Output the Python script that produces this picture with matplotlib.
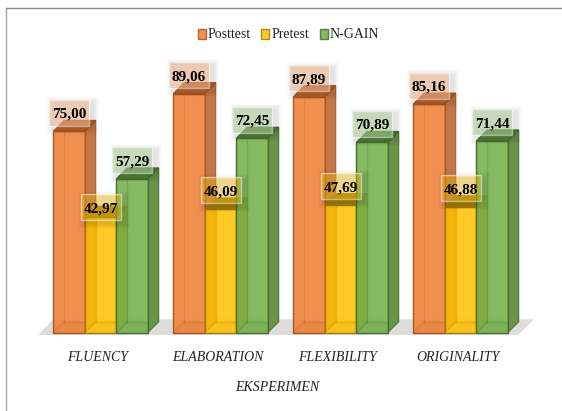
import matplotlib
matplotlib.use("Agg")
import matplotlib.pyplot as plt
from matplotlib.patches import Rectangle, Patch
from matplotlib.lines import Line2D

categories = ["FLUENCY", "ELABORATION", "FLEXIBILITY", "ORIGINALITY"]
posttest = [75.00, 89.06, 87.89, 85.16]
pretest = [42.97, 46.09, 47.69, 46.88]
ngain = [57.29, 72.45, 70.89, 71.44]
series_names = ["Posttest", "Pretest", "N-GAIN"]
x_title = "EKSPERIMEN"

W, H = 562, 411
PX_X = 120.0      # pixels per category
PX_Y = 2.685      # pixels per value unit
BASE_PX = 332.7   # baseline pixel row (from top)
G0_PX = 100.5     # first group centre, pixel column

plt.rcParams["font.family"] = ["Liberation Serif", "DejaVu Serif"]
fig = plt.figure(figsize=(W / 100, H / 100), dpi=100, facecolor="white")

ax_l, ax_r, ax_t, ax_b = 38.0, 534.0, 20.0, 335.0
ax = fig.add_axes([ax_l / W, 1 - ax_b / H, (ax_r - ax_l) / W, (ax_b - ax_t) / H])
ax.set_xlim((ax_l - G0_PX) / PX_X, (ax_r - G0_PX) / PX_X)
ax.set_ylim((BASE_PX - ax_b) / PX_Y, (BASE_PX - ax_t) / PX_Y)
ax.patch.set_visible(False)
for s in ax.spines.values():
    s.set_visible(False)
ax.set_yticks([])

w = 31.5 / PX_X
dx = 11.0 / PX_X
dy = 11.0 / PX_Y
styles = [
    dict(face="#ED7D31", side="#C2774A", top="#B8662F", edge="#A9561F", box_alpha=0.30, under=0.35),
    dict(face="#FFC000", side="#E3AC12", top="#A87E06", edge="#A07A0A", box_alpha=0.38, under=0.08),
    dict(face="#70AD47", side="#6A944C", top="#547F3A", edge="#44702C", box_alpha=0.30, under=0.35),
]
all_series = [posttest, pretest, ngain]
z = 3

# floor
n = len(categories)
floor_left = ax.get_xlim()[0]
floor_right = ax.get_xlim()[1]
yb = (BASE_PX - 335.0) / PX_Y
yt = (BASE_PX - 319.3) / PX_Y
ax.fill([floor_left, floor_right - 16.0 / PX_X, floor_right, floor_left + 15.3 / PX_X],
        [yb, yb, yt, yt], color="#DEDDDD", lw=0, zorder=1, clip_on=False)

for gi in range(n):
    for si, vals in enumerate(all_series):
        st = styles[si]
        v = vals[gi]
        c = gi + (si - 1) * w
        x0, x1 = c - w / 2, c + w / 2
        # bottom face
        ax.fill([x0, x1, x1 + dx, x0 + dx], [0, 0, dy, dy], color=st["edge"], alpha=0.18,
                lw=0, zorder=z, clip_on=False)
        # side
        ax.fill([x1, x1 + dx, x1 + dx, x1], [0, dy, v + dy, v], facecolor=st["side"],
                edgecolor=st["edge"], lw=0.7, zorder=z + 0.1, clip_on=False)
        # top
        ax.fill([x0, x1, x1 + dx, x0 + dx], [v, v, v + dy, v + dy], facecolor=st["top"],
                edgecolor=st["edge"], lw=0.7, zorder=z + 0.2, clip_on=False)
        # front
        ax.bar(c, v, width=w, color=st["face"], alpha=0.85, lw=0, zorder=z + 0.3, clip_on=False)
        ax.bar(c, v, width=w, facecolor="none", edgecolor=st["edge"], lw=1.0, zorder=z + 0.4, clip_on=False)
        # inner back edges
        ax.plot([x0 + dx, x0 + dx], [dy, v], color=st["edge"], lw=0.9, alpha=0.22, zorder=z + 0.35)
        ax.plot([x0 + dx, x1], [dy, dy], color=st["edge"], lw=0.9, alpha=0.22, zorder=z + 0.35)
        ax.plot([x0, x0 + dx], [0, dy], color=st["edge"], lw=0.9, alpha=0.22, zorder=z + 0.35)
        z += 1

# data labels with soft shadow
box_w = 40.0 / PX_X
box_h = 26.0 / PX_Y
for gi in range(n):
    for si, vals in enumerate(all_series):
        st = styles[si]
        v = vals[gi]
        c = gi + (si - 1) * w
        lift = 10.0 if (gi == 0 and si == 1) else 18.5
        cy = v + lift / PX_Y
        for k in range(7):
            grow = (7 - k) * 1.7
            ax.add_patch(Rectangle((c - box_w / 2 + (4 - grow / 2) / PX_X, cy - box_h / 2 - (3 + grow / 2) / PX_Y),
                                   box_w + grow / PX_X, box_h + grow / PX_Y,
                                   facecolor="black", alpha=0.014, lw=0, zorder=50, clip_on=False))
        ax.add_patch(Rectangle((c - box_w / 2, cy - box_h / 2), box_w, box_h, facecolor="white",
                               alpha=st["under"], lw=0, zorder=50.5, clip_on=False))
        ax.add_patch(Rectangle((c - box_w / 2, cy - box_h / 2), box_w, box_h, facecolor=st["face"],
                               alpha=st["box_alpha"], lw=0, zorder=51, clip_on=False))
        ax.add_patch(Rectangle((c - box_w / 2, cy - box_h / 2), box_w, box_h, facecolor="none",
                               edgecolor=(1, 1, 1, 0.5), lw=1.0, zorder=52, clip_on=False))
        ax.text(c, cy, f"{v:.2f}".replace(".", ","), ha="center", va="center_baseline", fontsize=11,
                fontweight="bold", color="black", zorder=53)

# category axis
ax.set_xticks([i - 3.0 / PX_X for i in range(n)], categories, fontsize=10, fontstyle="italic", color="#222222")
ax.tick_params(axis="x", length=0, pad=11.5)
fig.text(277.5 / W, 1 - 387 / H, x_title, fontsize=10, fontstyle="italic", color="#222222",
         ha="center", va="center")

# legend
handles = [Patch(facecolor=st["face"], edgecolor=st["edge"], alpha=0.85, lw=1.0) for st in styles]
leg = fig.legend(handles, series_names, loc="center", bbox_to_anchor=(288.5 / W, 1 - 35 / H), ncol=3,
                 frameon=False, fontsize=10, handlelength=0.58, handleheight=0.75, handletextpad=0.15,
                 columnspacing=0.75, borderpad=0, labelcolor="#222222")

# chart-area frame: only the left and top edges are visible
fig.add_artist(Line2D([5.5 / W, 5.5 / W], [0, 1 - 8.5 / H], color="#A6A6A6", lw=1.0))
fig.add_artist(Line2D([5.5 / W, 1], [1 - 8.5 / H, 1 - 8.5 / H], color="#8C8C8C", lw=1.0))

fig.savefig("out.png", dpi=100)
